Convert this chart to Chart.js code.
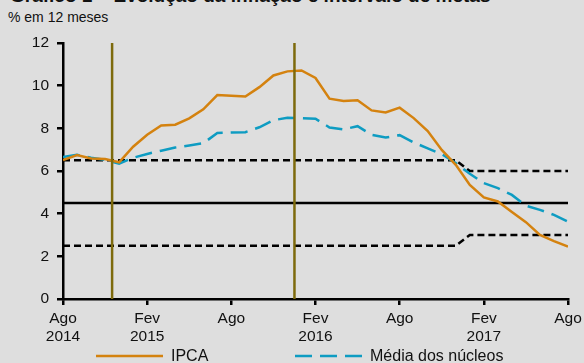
<!DOCTYPE html>
<html>
<head>
<meta charset="utf-8">
<script src="https://cdn.jsdelivr.net/npm/chart.js@4"></script>
<style>
  html, body { margin: 0; padding: 0; background: #dedede; }
  #wrap { position: relative; width: 584px; height: 363px; overflow: hidden; font-family: "Liberation Sans", Arial, sans-serif; }
  #title { position: absolute; left: 10px; top: -15px; font-size: 19px; font-weight: bold; color: #111; white-space: nowrap; }
  #unit { position: absolute; left: 8px; top: 9px; font-size: 14px; color: #111; }
  canvas { position: absolute; left: 0; top: 0; }
</style>
</head>
<body>
<div id="wrap">
  <div id="title">Gráfico 1 – Evolução da inflação e intervalo de metas</div>
  <div id="unit">% em 12 meses</div>
  <canvas id="chart" width="584" height="363"></canvas>
</div>
<script>
// months from Ago 2014 (0) to Ago 2017 (36)
const tickLabels = {
  0: ['Ago', '2014'], 6: ['Fev', '2015'], 12: 'Ago', 18: ['Fev', '2016'],
  24: 'Ago', 30: ['Fev', '2017'], 36: 'Ago'
}

const ipca = [6.51, 6.75, 6.59, 6.56, 6.41, 7.14, 7.70, 8.13, 8.17, 8.47, 8.89, 9.56,
  9.53, 9.49, 9.93, 10.48, 10.67, 10.71, 10.36, 9.39, 9.28, 9.32, 8.84, 8.74,
  8.97, 8.48, 7.87, 6.99, 6.29, 5.35, 4.76, 4.57, 4.08, 3.60, 3.00, 2.71, 2.46]

const nucleos = [6.65, 6.76, 6.62, 6.52, 6.34, 6.62, 6.80, 6.95, 7.10, 7.20, 7.30, 7.78,
  7.80, 7.82, 8.05, 8.38, 8.50, 8.48, 8.45, 8.04, 7.95, 8.10, 7.70, 7.57,
  7.68, 7.34, 7.06, 6.79, 6.37, 5.87, 5.43, 5.20, 4.88, 4.37, 4.18, 3.94, 3.62]

const meta = new Array(37).fill(4.5)
const tetoMeta = ipca.map((v, i) => i <= 28 ? 6.5 : 6.0)
const pisoMeta = ipca.map((v, i) => i <= 28 ? 2.5 : 3.0)

// vertical markers (between Nov/Dez 2014 and Dez 2015/Jan 2016)
const marcos = [3.5, 16.5]

const toPoints = arr => arr.map((y, x) => ({ x, y }))

const vline = x => ({
  data: [{ x, y: 0 }, { x, y: 12 }],
  borderColor: '#7d6a0c',
  borderWidth: 2.5,
  pointRadius: 0,
  legend: false
})

const legendPlugin = {
  id: 'lineLegend',
  afterDraw(chart) {
    const ctx = chart.ctx
    const items = [[0, 96], [1, 295]]
    const y = 356
    ctx.save()
    items.forEach(([k, x]) => {
      const ds = chart.data.datasets.filter(d => d.legend !== false)[k]
      ctx.strokeStyle = ds.borderColor
      ctx.lineWidth = ds.borderWidth
      ctx.setLineDash(ds.borderDash || [])
      ctx.beginPath()
      ctx.moveTo(x, y)
      ctx.lineTo(x + 67, y)
      ctx.stroke()
      ctx.setLineDash([])
      ctx.fillStyle = '#111'
      ctx.font = '16px "Liberation Sans", Arial, sans-serif'
      ctx.textBaseline = 'middle'
      ctx.fillText(ds.label, x + 75, y + 1)
    })
    ctx.restore()
  }
}

new Chart(document.getElementById('chart'), {
  type: 'line',
  data: {
    datasets: [
      vline(marcos[0]),
      vline(marcos[1]),
      {
        label: 'IPCA',
        data: toPoints(ipca),
        borderColor: '#d4820f',
        borderWidth: 2.5,
        pointRadius: 0
      },
      {
        label: 'Média dos núcleos',
        data: toPoints(nucleos),
        borderColor: '#0e9cc2',
        borderWidth: 2.5,
        borderDash: [17, 8],
        pointRadius: 0
      },
      { data: toPoints(meta), borderColor: '#000', borderWidth: 2.5, pointRadius: 0, legend: false },
      { data: toPoints(tetoMeta), borderColor: '#000', borderWidth: 2.5, borderDash: [7, 4], pointRadius: 0, legend: false },
      { data: toPoints(pisoMeta), borderColor: '#000', borderWidth: 2.5, borderDash: [7, 4], pointRadius: 0, legend: false }
    ]
  },
  options: {
    responsive: false,
    animation: false,
    layout: { padding: { left: 0, right: 16, top: 43, bottom: 0 } },
    plugins: { legend: { display: false }, tooltip: { enabled: false } },
    elements: { line: { tension: 0 } },
    scales: {
      x: {
        type: 'linear',
        min: 0,
        max: 36,
        afterFit: s => { s.height = 64; s.paddingLeft = 0; s.paddingRight = 0 },
        afterBuildTicks: s => { s.ticks = Object.keys(tickLabels).map(v => ({ value: +v })) },
        border: { color: '#000', width: 2.5 },
        grid: { drawOnChartArea: false, drawTicks: true, tickLength: 6, color: '#000', lineWidth: 2.5 },
        ticks: {
          color: '#111',
          maxRotation: 0,
          autoSkip: false,
          padding: 5,
          font: { family: '"Liberation Sans", Arial, sans-serif', size: 15.5, lineHeight: 1.17 },
          callback: v => tickLabels[v]
        }
      },
      y: {
        min: 0,
        max: 12,
        afterFit: s => { s.width = 63; s.paddingTop = 0; s.paddingBottom = 0 },
        border: { color: '#000', width: 2.5 },
        grid: { drawOnChartArea: false, drawTicks: true, tickLength: 6, color: '#000', lineWidth: 2.5 },
        ticks: {
          stepSize: 2,
          color: '#111',
          padding: 8,
          font: { family: '"Liberation Sans", Arial, sans-serif', size: 15.5 }
        }
      }
    }
  },
  plugins: [legendPlugin]
})
</script>
</body>
</html>
